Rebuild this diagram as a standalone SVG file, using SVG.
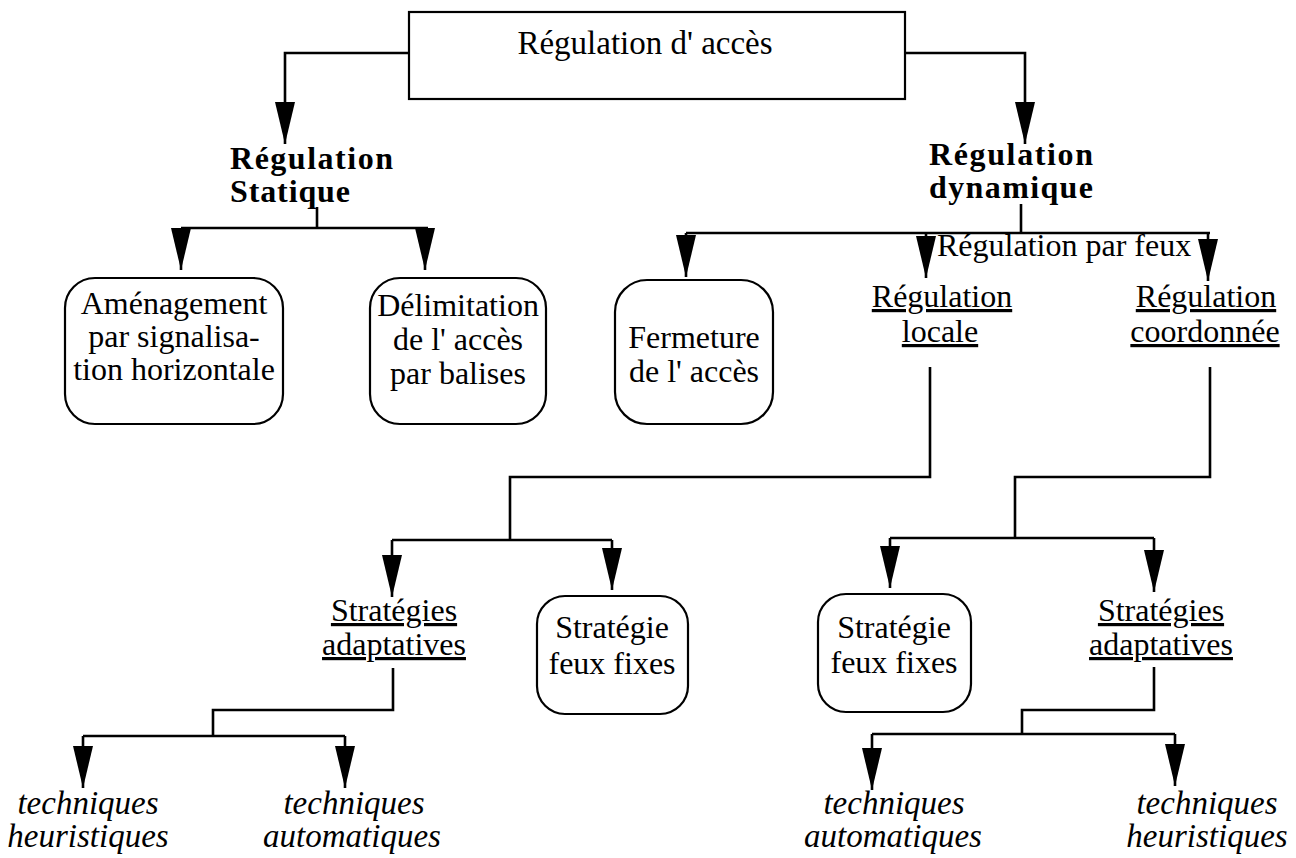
<svg xmlns="http://www.w3.org/2000/svg" width="1296" height="858" viewBox="0 0 1296 858">
  <style>
    text { font-family: "Liberation Serif", "Times New Roman", serif; fill: #000; }
    .t { font-size: 32px; text-anchor: middle; }
    .root { font-size: 33px; text-anchor: middle; }
    .head { font-size: 32px; font-weight: bold; }
    .u { text-decoration: underline; }
    .it { font-size: 33px; font-style: italic; text-anchor: middle; }
    .label { font-size: 32px; }
    .box { fill: #fff; stroke: #000; stroke-width: 2.2; }
    .wire { fill: none; stroke: #000; stroke-width: 2.6; }
    .arr { marker-end: url(#tip); }
  </style>
  <defs>
    <marker id="tip" viewBox="0 0 42 20" refX="42" refY="10" markerWidth="42" markerHeight="20" markerUnits="userSpaceOnUse" orient="auto">
      <path d="M0,0 L42,10 L0,20 Z" fill="#000"/>
    </marker>
  </defs>

  <rect width="1296" height="858" fill="#fff"/>

  <!-- connectors -->
  <g id="connectors" class="wire">
    <path class="arr" d="M409,53 H285 V144"/>
    <path class="arr" d="M905,53 H1025 V144"/>

    <path d="M317,207 V228"/>
    <path d="M181,228 H428"/>
    <path class="arr" d="M181,228 V270"/>
    <path class="arr" d="M425,228 V270"/>

    <path d="M1021,204 V233"/>
    <path d="M686,233 H1210"/>
    <path class="arr" d="M686,233 V277"/>
    <path class="arr" d="M926,233 V278"/>
    <path class="arr" d="M1208,233 V281"/>

    <path d="M930,367 V477 H510 V540"/>
    <path d="M392,540 H612"/>
    <path class="arr" d="M392,540 V597"/>
    <path class="arr" d="M612,540 V590"/>

    <path d="M1210,367 V477 H1015 V538"/>
    <path d="M890,538 H1154"/>
    <path class="arr" d="M890,538 V588"/>
    <path class="arr" d="M1154,538 V592"/>

    <path d="M393,668 V710 H213 V736"/>
    <path d="M83,736 H345"/>
    <path class="arr" d="M83,736 V788"/>
    <path class="arr" d="M345,736 V788"/>

    <path d="M1154,667 V710 H1022 V734"/>
    <path d="M872,734 H1175"/>
    <path class="arr" d="M872,734 V790"/>
    <path class="arr" d="M1175,734 V786"/>
  </g>

  <!-- root -->
  <g id="regulation-acces">
    <rect class="box" x="409" y="12" width="496" height="87"/>
    <text class="root" x="645" y="54">Régulation d' accès</text>
  </g>

  <g id="regulation-statique">
    <text class="head" x="230" y="169" textLength="163" lengthAdjust="spacing">Régulation</text>
    <text class="head" x="230" y="202" textLength="120" lengthAdjust="spacing">Statique</text>
  </g>

  <g id="regulation-dynamique">
    <text class="head" x="929" y="165" textLength="164" lengthAdjust="spacing">Régulation</text>
    <text class="head" x="929" y="198" textLength="164" lengthAdjust="spacing">dynamique</text>
  </g>

  <g id="amenagement">
    <rect class="box" x="65" y="278" width="218" height="146" rx="30"/>
    <text class="t" x="174" y="314">Aménagement</text>
    <text class="t" x="174" y="347">par signalisa-</text>
    <text class="t" x="174" y="380">tion horizontale</text>
  </g>

  <g id="delimitation">
    <rect class="box" x="370" y="278" width="176" height="146" rx="30"/>
    <text class="t" x="458" y="316">Délimitation</text>
    <text class="t" x="458" y="350">de l' accès</text>
    <text class="t" x="458" y="384">par balises</text>
  </g>

  <g id="fermeture">
    <rect class="box" x="615" y="280" width="158" height="144" rx="32"/>
    <text class="t" x="694" y="348">Fermeture</text>
    <text class="t" x="694" y="382">de l' accès</text>
  </g>

  <g id="regulation-par-feux">
    <text class="label" x="937" y="256">Régulation par feux</text>
  </g>

  <g id="regulation-locale">
    <text class="t u" x="942" y="307">Régulation</text>
    <text class="t u" x="940" y="342">locale</text>
  </g>

  <g id="regulation-coordonnee">
    <text class="t u" x="1206" y="307">Régulation</text>
    <text class="t u" x="1205" y="342">coordonnée</text>
  </g>

  <g id="strategies-adaptatives-locale">
    <text class="t u" x="394" y="621">Stratégies</text>
    <text class="t u" x="394" y="655">adaptatives</text>
  </g>

  <g id="feux-fixes-locale">
    <rect class="box" x="537" y="596" width="151" height="118" rx="28"/>
    <text class="t" x="612" y="638">Stratégie</text>
    <text class="t" x="612" y="674">feux fixes</text>
  </g>

  <g id="feux-fixes-coordonnee">
    <rect class="box" x="818" y="594" width="153" height="118" rx="28"/>
    <text class="t" x="894" y="638">Stratégie</text>
    <text class="t" x="894" y="673">feux fixes</text>
  </g>

  <g id="strategies-adaptatives-coordonnee">
    <text class="t u" x="1161" y="621">Stratégies</text>
    <text class="t u" x="1161" y="655">adaptatives</text>
  </g>

  <g id="heuristiques-locale">
    <text class="it" x="88" y="814">techniques</text>
    <text class="it" x="88" y="847">heuristiques</text>
  </g>

  <g id="automatiques-locale">
    <text class="it" x="354" y="814">techniques</text>
    <text class="it" x="352" y="847">automatiques</text>
  </g>

  <g id="automatiques-coordonnee">
    <text class="it" x="894" y="814">techniques</text>
    <text class="it" x="893" y="847">automatiques</text>
  </g>

  <g id="heuristiques-coordonnee">
    <text class="it" x="1207" y="814">techniques</text>
    <text class="it" x="1207" y="847">heuristiques</text>
  </g>
</svg>
